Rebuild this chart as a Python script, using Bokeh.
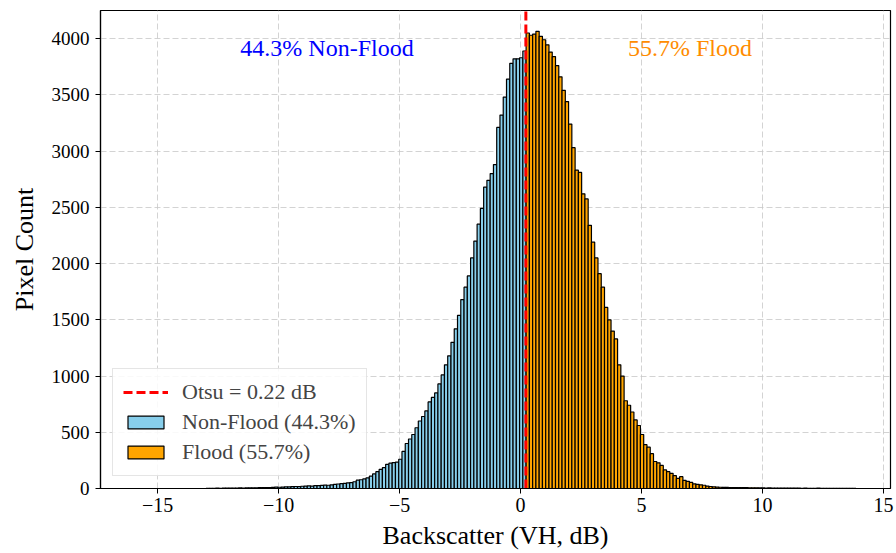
import numpy as np
from bokeh.plotting import figure
from bokeh.models import ColumnDataSource, FixedTicker, Legend, LegendItem, Label, Range1d
from bokeh.embed import file_html
from bokeh.resources import INLINE

# ---------------- data ----------------
otsu_db = 0.22
nonflood_pct = 44.3
flood_pct = 55.7
bin_start = -13.0
bin_width = 0.135

# Non-flood histogram counts (bins below Otsu threshold)
nonflood_counts = [
    1, 2, 2, 3, 2,
    3, 4, 3, 4, 4,
    5, 4, 5, 6, 5,
    6, 7, 8, 7, 9,
    10, 12, 11, 13, 14,
    15, 16, 18, 17, 20,
    21, 23, 22, 25, 26,
    27, 30, 29, 33, 36,
    40, 43, 45, 50, 53,
    60, 74, 78, 85, 95,
    110, 130, 150, 170, 185,
    215, 225, 230, 235, 260,
    330, 400, 440, 480, 540,
    600, 640, 690, 770, 810,
    850, 930, 1010, 1100, 1180,
    1300, 1420, 1540, 1680, 1790,
    1890, 2050, 2200, 2350, 2490,
    2680, 2740, 2800, 2880, 3210,
    3320, 3480, 3640, 3780, 3820,
    3820, 3830, 3890,
]

# Flood histogram counts (bins above Otsu threshold)
flood_counts = [
    4050, 4030,
    4040, 4065, 4020, 3990, 3945,
    3880, 3840, 3760, 3660, 3540,
    3440, 3240, 3030, 2830, 2810,
    2620, 2575, 2340, 2190, 2050,
    1910, 1790, 1610, 1500, 1400,
    1330, 1100, 1000, 780, 740,
    680, 610, 560, 480, 390,
    367, 310, 240, 228, 205,
    165, 150, 135, 115, 90,
    105, 72, 64, 55, 42,
    37, 33, 29, 22, 18,
    15, 13, 11, 10, 10,
    9, 9, 8, 8, 7,
    7, 6, 6, 6, 5,
    5, 4, 5, 4, 4,
    4, 3, 4, 3, 3,
    3, 3, 2, 3, 2,
    2, 2, 3, 2, 2,
    2, 1, 2, 1, 2,
    1, 1, 1, 1, 0,
]

x_ticks = [-15, -10, -5, 0, 5, 10, 15]
y_ticks = [0, 500, 1000, 1500, 2000, 2500, 3000, 3500, 4000]

# ---------------- build ----------------
n_nf = len(nonflood_counts)
n_f = len(flood_counts)
edges = bin_start + bin_width * np.arange(n_nf + n_f + 1)

src_nf = ColumnDataSource(dict(left=edges[:n_nf], right=edges[1:n_nf + 1],
                               top=nonflood_counts, bottom=[0] * n_nf))
src_f = ColumnDataSource(dict(left=edges[n_nf:-1], right=edges[n_nf + 1:],
                              top=flood_counts, bottom=[0] * n_f))

FONT = "Liberation Serif"
y_top = 4250

p = figure(width=896, height=553, output_backend="svg", toolbar_location=None,
           x_range=Range1d(-17.36, 15.29), y_range=Range1d(0, y_top))
p.min_border_left = 100
p.min_border_right = 6
p.min_border_top = 10
p.min_border_bottom = 65
p.background_fill_color = "white"
p.border_fill_color = "white"
p.outline_line_color = "black"
p.outline_line_width = 1.2

r_nf = p.quad(left="left", right="right", top="top", bottom="bottom", source=src_nf,
              fill_color="#87CEEB", line_color="black", line_width=1.2)
r_f = p.quad(left="left", right="right", top="top", bottom="bottom", source=src_f,
             fill_color="#FFA500", line_color="black", line_width=1.2)
r_line = p.line(x=[otsu_db, otsu_db], y=[0, y_top], line_color="red", line_width=3,
                line_dash="9 4")

for ax in (p.xaxis[0], p.yaxis[0]):
    ax.axis_line_color = "black"
    ax.axis_line_width = 1.2
    ax.major_tick_line_color = "black"
    ax.major_tick_in = 0
    ax.major_tick_out = 5
    ax.minor_tick_line_color = None
    ax.major_label_text_font = FONT
    ax.major_label_text_font_size = "19px"
    ax.major_label_text_color = "black"
    ax.axis_label_text_font = FONT
    ax.axis_label_text_font_size = "26px"
    ax.axis_label_text_font_style = "normal"
    ax.axis_label_text_color = "black"

p.xaxis.major_label_text_font_size = "20px"
p.xaxis.ticker = FixedTicker(ticks=x_ticks)
p.yaxis.ticker = FixedTicker(ticks=y_ticks)
p.xaxis.major_label_overrides = {t: (str(t).replace("-", "\u2212")) for t in x_ticks}
p.xaxis.axis_label = "Backscatter (VH, dB)"
p.yaxis.axis_label = "Pixel Count"
p.xaxis.major_label_standoff = 4
p.yaxis.major_label_standoff = 6
p.xaxis.axis_label_standoff = 6
p.yaxis.axis_label_standoff = 10

for g in (p.xgrid[0], p.ygrid[0]):
    g.grid_line_color = "#c8c8c8"
    g.grid_line_dash = "6 3"
    g.grid_line_width = 1
    g.grid_line_alpha = 0.8

p.add_layout(Label(x=-8, y=3920, text=f"{nonflood_pct:.1f}% Non-Flood", text_color="blue",
                   text_align="center", text_baseline="middle", text_font=FONT,
                   text_font_size="24px"))
p.add_layout(Label(x=7, y=3920, text=f"{flood_pct:.1f}% Flood", text_color="#FF8C00",
                   text_align="center", text_baseline="middle", text_font=FONT,
                   text_font_size="24px"))

legend = Legend(items=[
    LegendItem(label=f"Otsu = {otsu_db:.2f} dB", renderers=[r_line]),
    LegendItem(label=f"Non-Flood ({nonflood_pct:.1f}%)", renderers=[r_nf]),
    LegendItem(label=f"Flood ({flood_pct:.1f}%)", renderers=[r_f]),
], location="bottom_left")
legend.label_text_font = FONT
legend.label_text_font_size = "22px"
legend.glyph_width = 45
legend.glyph_height = 16
legend.label_standoff = 14
legend.spacing = 4
legend.padding = 10
legend.margin = 12
legend.border_line_color = "#cccccc"
legend.border_line_width = 1
legend.background_fill_alpha = 0.85
p.add_layout(legend)

open("out.html", "w").write(file_html(p, INLINE))
